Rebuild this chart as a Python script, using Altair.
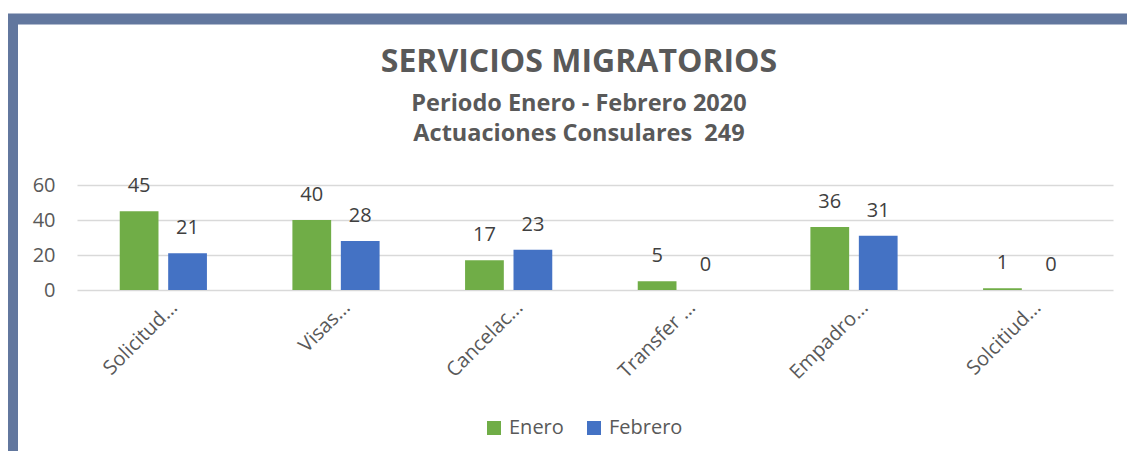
import altair as alt
import pandas as pd

categorias = ["Solicitud...", "Visas...", "Cancelac...", "Transfer ...", "Empadro...", "Solcitiud..."]
series = ["Enero", "Febrero"]
enero = [45, 40, 17, 5, 36, 1]
febrero = [21, 28, 23, 0, 31, 0]
colores = ["#70AD47", "#4472C4"]
y_ticks = [0, 20, 40, 60]
titulo = "SERVICIOS MIGRATORIOS"
subtitulos = ["Periodo Enero - Febrero 2020", "Actuaciones Consulares\u00a0 249"]

rows = []
for c, e, f in zip(categorias, enero, febrero):
    rows.append({"cat": c, "serie": "Enero", "valor": e})
    rows.append({"cat": c, "serie": "Febrero", "valor": f})
df = pd.DataFrame(rows)

FONT = "Open Sans"
GRAY = "#595959"

x = alt.X(
    "cat:N", sort=categorias, title=None,
    scale=alt.Scale(paddingInner=0.495, paddingOuter=0.2475),
    axis=alt.Axis(labelAngle=-45, labelAlign="right", labelBaseline="middle",
                  labelFontSize=20, labelFont=FONT, labelColor=GRAY,
                  labelPadding=14, labelOffset=11, domain=False, ticks=False,
                  grid=False, labelOverlap=False),
)
y = alt.Y(
    "valor:Q", title=None,
    scale=alt.Scale(domain=[0, 60], nice=False),
    axis=alt.Axis(values=y_ticks, domain=False, ticks=False, labelFontSize=20,
                  labelFont=FONT, labelColor=GRAY, labelPadding=22,
                  gridColor="#D9D9D9", gridWidth=1.5),
)
xoff = alt.XOffset("serie:N", sort=series,
                   scale=alt.Scale(paddingInner=0.2, paddingOuter=0))
color = alt.Color(
    "serie:N", sort=series,
    scale=alt.Scale(domain=series, range=colores),
    legend=alt.Legend(title=None, orient="none", legendX=407, legendY=233,
                      direction="horizontal", symbolType="square",
                      symbolSize=196, symbolStrokeWidth=0, labelFontSize=20,
                      labelFont=FONT, labelColor=GRAY, columnPadding=20,
                      labelOffset=5),
)

base = alt.Chart(df)
bars = base.mark_bar().encode(x=x, y=y, xOffset=xoff, color=color)
labels = base.mark_text(dy=-25, fontSize=20, font=FONT, color="#404040").encode(
    x=x, y=y, xOffset=xoff, text="valor:Q")

one = pd.DataFrame({"a": [0]})
frame = alt.Chart(one).mark_rect(
    fill=None, stroke="#62779E", strokeWidth=11, clip=False
).encode(x=alt.value(-64.5), x2=alt.value(1300), y=alt.value(-166), y2=alt.value(600))

t_main = alt.Chart(one).mark_text(
    text=titulo, font=FONT, fontSize=32, fontWeight="bold", color=GRAY,
    align="center", baseline="alphabetic"
).encode(x=alt.value(502), y=alt.value(-113))
t_sub1 = alt.Chart(one).mark_text(
    text=subtitulos[0], font=FONT, fontSize=23.5, fontWeight="bold", color=GRAY,
    align="center", baseline="alphabetic"
).encode(x=alt.value(502), y=alt.value(-74))
t_sub2 = alt.Chart(one).mark_text(
    text=subtitulos[1], font=FONT, fontSize=23.5, fontWeight="bold", color=GRAY,
    align="center", baseline="alphabetic"
).encode(x=alt.value(502), y=alt.value(-44))

chart = alt.layer(frame, t_main, t_sub1, t_sub2, bars, labels).properties(
    width=1036, height=105,
    autosize=alt.AutoSizeParams(type="none"),
    padding={"left": 69, "top": 177, "right": 14, "bottom": 161},
).configure(background="white", view=alt.ViewConfig(stroke=None))

chart.save("out.html", embed_options={"renderer": "svg", "actions": False})
